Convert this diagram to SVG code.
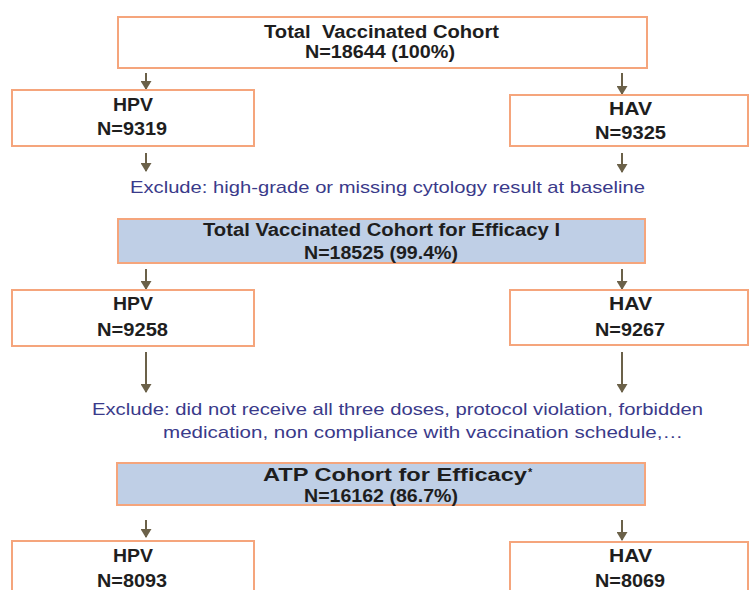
<svg xmlns="http://www.w3.org/2000/svg" width="749" height="590" viewBox="0 0 749 590">
<style>
.box{fill:#ffffff;stroke:#f5a57c;stroke-width:2}
.blue{fill:#bfcfe6;stroke:#f5a57c;stroke-width:2}
.t{font-family:"Liberation Sans",Arial,sans-serif;font-weight:bold;font-size:18px;fill:#1e1e1e;white-space:pre}
.ex{font-family:"Liberation Sans",Arial,sans-serif;font-size:17px;fill:#3a3a8a;white-space:pre}
.arr{stroke:#6b6149;stroke-width:2;fill:none;marker-end:url(#ah)}
</style>
<defs>
<marker id="ah" markerUnits="userSpaceOnUse" markerWidth="9" markerHeight="11" viewBox="0 0 9 11" refX="8" refY="5.5" orient="auto">
<path d="M0,0 L9,5.5 L0,11 Z" fill="#6b6149"/>
</marker>
</defs>
<rect width="749" height="590" fill="#ffffff"/>
<g id="connectors">
<path class="arr" d="M146,73 V89"/>
<path class="arr" d="M622,73 V94"/>
<path class="arr" d="M146,153 V171"/>
<path class="arr" d="M622,153 V172"/>
<path class="arr" d="M146,269 V289"/>
<path class="arr" d="M622,269 V289"/>
<path class="arr" d="M146,352 V392"/>
<path class="arr" d="M622,352 V392"/>
<path class="arr" d="M146,520 V537"/>
<path class="arr" d="M622,520 V540"/>
</g>
<g id="total">
<rect class="box" x="118" y="17" width="529" height="51"/>
<text class="t" x="264" y="38" textLength="235" lengthAdjust="spacingAndGlyphs">Total  Vaccinated Cohort</text>
<text class="t" x="305" y="58" textLength="150" lengthAdjust="spacingAndGlyphs">N=18644 (100%)</text>
</g>
<g id="hpv1">
<rect class="box" x="12" y="90" width="242" height="56"/>
<text class="t" x="113" y="111" textLength="40" lengthAdjust="spacingAndGlyphs">HPV</text>
<text class="t" x="97" y="135" textLength="70" lengthAdjust="spacingAndGlyphs">N=9319</text>
</g>
<g id="hav1">
<rect class="box" x="510" y="95" width="238" height="51"/>
<text class="t" x="609" y="115" textLength="43" lengthAdjust="spacingAndGlyphs">HAV</text>
<text class="t" x="595" y="139" textLength="71" lengthAdjust="spacingAndGlyphs">N=9325</text>
</g>
<g id="exclude1">
<text class="ex" x="130" y="193" textLength="515" lengthAdjust="spacingAndGlyphs">Exclude: high-grade or missing cytology result at baseline</text>
</g>
<g id="tvc-efficacy">
<rect class="blue" x="118" y="219" width="527" height="44"/>
<text class="t" x="203" y="236" textLength="357" lengthAdjust="spacingAndGlyphs">Total Vaccinated Cohort for Efficacy I</text>
<text class="t" x="304" y="259" textLength="154" lengthAdjust="spacingAndGlyphs">N=18525 (99.4%)</text>
</g>
<g id="hpv2">
<rect class="box" x="12" y="290" width="242" height="56"/>
<text class="t" x="113" y="310" textLength="40" lengthAdjust="spacingAndGlyphs">HPV</text>
<text class="t" x="97" y="336" textLength="71" lengthAdjust="spacingAndGlyphs">N=9258</text>
</g>
<g id="hav2">
<rect class="box" x="510" y="290" width="238" height="55"/>
<text class="t" x="609" y="310" textLength="43" lengthAdjust="spacingAndGlyphs">HAV</text>
<text class="t" x="595" y="336" textLength="70" lengthAdjust="spacingAndGlyphs">N=9267</text>
</g>
<g id="exclude2">
<text class="ex" x="92" y="415" textLength="611" lengthAdjust="spacingAndGlyphs">Exclude: did not receive all three doses, protocol violation, forbidden</text>
<text class="ex" x="163" y="438" textLength="520" lengthAdjust="spacingAndGlyphs">medication, non compliance with vaccination schedule,…</text>
</g>
<g id="atp">
<rect class="blue" x="117" y="463" width="528" height="42"/>
<text class="t" x="263" y="481" textLength="264" lengthAdjust="spacingAndGlyphs">ATP Cohort for Efficacy</text>
<text class="t" x="528" y="476" style="font-size:11px">*</text>
<text class="t" x="304" y="502" textLength="154" lengthAdjust="spacingAndGlyphs">N=16162 (86.7%)</text>
</g>
<g id="hpv3">
<rect class="box" x="12" y="541" width="242" height="60"/>
<text class="t" x="113" y="562" textLength="40" lengthAdjust="spacingAndGlyphs">HPV</text>
<text class="t" x="97" y="587" textLength="70" lengthAdjust="spacingAndGlyphs">N=8093</text>
</g>
<g id="hav3">
<rect class="box" x="510" y="542" width="238" height="60"/>
<text class="t" x="609" y="562" textLength="43" lengthAdjust="spacingAndGlyphs">HAV</text>
<text class="t" x="595" y="587" textLength="70" lengthAdjust="spacingAndGlyphs">N=8069</text>
</g>
</svg>
